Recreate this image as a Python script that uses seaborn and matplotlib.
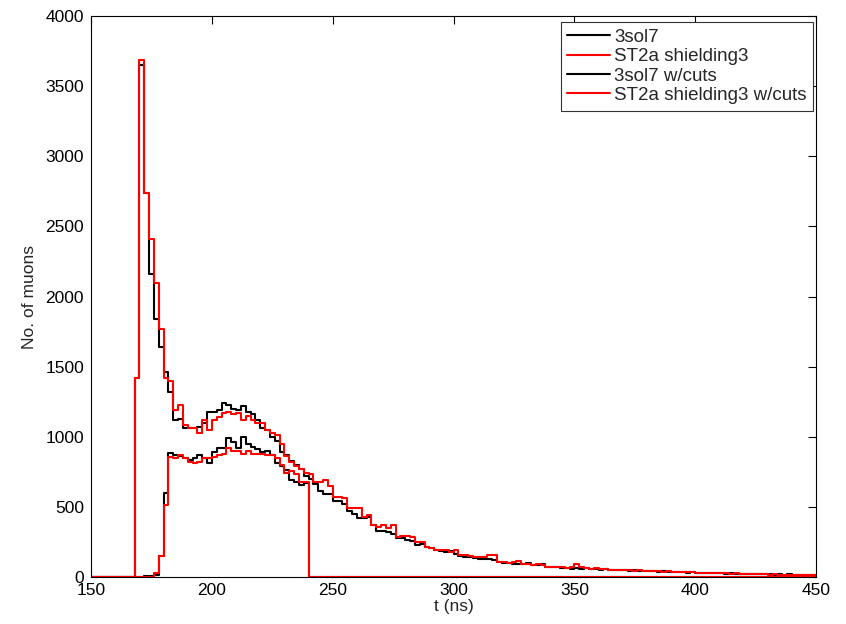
import numpy as np
import pandas as pd
import seaborn as sns
import matplotlib.pyplot as plt

# histogram of muon arrival times, 2 ns bins from 150 to 450 ns
bin_width = 2
t_min, t_max = 150, 450

# counts per bin, each list starts at its first non-empty bin (earlier/later bins are 0)
sol7_start = 168
sol7 = [1420, 3650, 2740, 2160, 1840, 1640, 1460, 1320, 1120, 1130,
        1060, 1065, 1060, 1070, 1100, 1180, 1180, 1190, 1240, 1230,
        1200, 1190, 1220, 1180, 1160, 1120, 1060, 1050, 1000, 970,
        890, 870, 830, 800, 770, 720, 700, 660, 615, 595,
        595, 545, 545, 520, 470, 450, 420, 420, 430, 371,
        330, 330, 320, 310, 280, 275, 265, 255, 230, 235,
        215, 205, 190, 185, 180, 185, 165, 150, 145, 140,
        135, 130, 125, 125, 120, 105, 100, 100, 90, 90,
        95, 97, 86, 86, 95, 74, 70, 70, 62, 62,
        60,
        66, 58, 62, 55, 60, 52, 55, 50, 53, 48,
        50, 45, 47, 42, 46, 40, 43, 38, 40, 36,
        38, 34, 37, 32, 33, 30, 32, 28, 30, 27,
        29, 25, 27, 24, 22, 20, 24, 20, 22, 18,
        20, 17, 19, 16, 18, 15, 17, 14, 16, 13]

st2a_start = 168
st2a = [1420, 3690, 2740, 2410, 2100, 1770, 1420, 1400, 1190, 1230,
        1085, 1065, 1060, 1030, 1120, 1050, 1120, 1140, 1170, 1180,
        1160, 1170, 1120, 1145, 1120, 1100, 1100, 1050, 1030, 1010,
        950, 860, 820, 790, 770, 745, 735, 680, 680, 690,
        650, 574, 574, 560, 490, 490, 490, 431, 440, 371,
        360, 371, 348, 371, 288, 295, 295, 288, 252, 252,
        217, 210, 193, 193, 193, 175, 193, 157, 157, 150,
        145, 145, 145, 155, 155, 110, 110, 100, 110, 115,
        95, 95, 86, 95, 86, 74, 74, 74, 74, 62,
        70,
        90, 72, 65, 60, 62, 55, 58, 52, 50, 52,
        48, 50, 45, 47, 43, 44, 40, 42, 38, 40,
        36, 38, 34, 36, 33, 32, 30, 31, 28, 30,
        27, 28, 25, 26, 22, 20, 19, 21, 18, 19,
        17, 18, 16, 17, 15, 16, 14, 15, 13, 14]

sol7_cuts_start = 172
sol7_cuts = [5, 8, 15, 150, 600, 885, 870, 860, 850, 835,
             850, 870, 850, 810, 890, 920, 920, 990, 965, 920,
             1000, 950, 930, 910, 890, 900, 870, 810, 790, 765,
             690, 680, 655, 670]

st2a_cuts_start = 176
st2a_cuts = [28, 150, 514, 857, 850, 870, 850, 820, 810, 820,
             850, 850, 857, 870, 880, 920, 900, 900, 880, 900,
             880, 880, 880, 870, 870, 850, 800, 745, 755, 735,
             680, 680]

labels = ['3sol7', 'ST2a shielding3', '3sol7 w/cuts', 'ST2a shielding3 w/cuts']
colors = ['black', 'red', 'black', 'red']


def full_hist(first_bin, counts):
    edges = np.arange(t_min, t_max + bin_width, bin_width)
    y = np.zeros(len(edges) - 1)
    i = (first_bin - t_min) // bin_width
    y[i:i + len(counts)] = counts
    # repeat last value so the step reaches the final edge
    return edges, np.append(y, y[-1])


frames = []
for lab, start, counts in zip(labels,
                              [sol7_start, st2a_start, sol7_cuts_start, st2a_cuts_start],
                              [sol7, st2a, sol7_cuts, st2a_cuts]):
    x, y = full_hist(start, counts)
    frames.append(pd.DataFrame({'t': x, 'n': y, 'series': lab}))
df = pd.concat(frames, ignore_index=True)

sns.set_style('white')
plt.rcParams['font.family'] = ['Liberation Sans', 'DejaVu Sans']
plt.rcParams['xtick.direction'] = 'in'
plt.rcParams['ytick.direction'] = 'in'

fig = plt.figure(figsize=(8.46, 6.24), dpi=100)
ax = fig.add_axes([0.1076, 0.0753, 0.857, 0.899])

sns.lineplot(data=df, x='t', y='n', hue='series', hue_order=labels,
             palette=dict(zip(labels, colors)), estimator=None,
             drawstyle='steps-post', linewidth=1.5, ax=ax)

ax.set_xlim(150, 450)
ax.set_ylim(0, 4000)
ax.set_xticks(np.arange(150, 451, 50))
ax.set_yticks(np.arange(0, 4001, 500))
ax.tick_params(axis='both', which='both', direction='in', length=6, width=0.8,
               top=True, right=True, labelsize=12.5, colors='black')
ax.tick_params(axis='x', pad=4)
ax.tick_params(axis='y', pad=5)
for s in ax.spines.values():
    s.set_visible(True)
    s.set_color('black')
    s.set_linewidth(0.8)

ax.set_xlabel('t (ns)', fontsize=12.5, labelpad=1)
ax.set_ylabel('No. of muons', fontsize=12.5, labelpad=6)

handles, _ = ax.get_legend_handles_labels()
leg = ax.legend(handles, labels, loc='upper right', bbox_to_anchor=(0.996, 0.989),
                borderaxespad=0, fontsize=13.5, frameon=True,
                fancybox=False, edgecolor='#333333', framealpha=1,
                handlelength=2.3, handletextpad=0.2, labelspacing=0.12,
                borderpad=0.35)
leg.get_frame().set_linewidth(0.8)

fig.savefig('out.png', dpi=100)
